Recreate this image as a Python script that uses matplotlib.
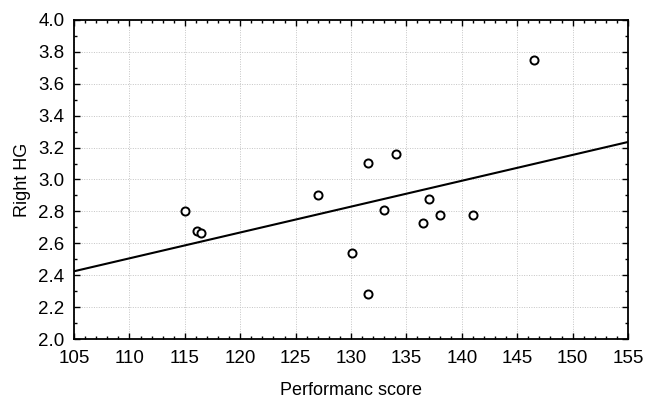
import numpy as np
import matplotlib
matplotlib.use("Agg")
import matplotlib.pyplot as plt
from matplotlib.ticker import MultipleLocator

# data
score = [115.0, 116.1, 116.5, 127.0, 130.1, 131.5, 131.5, 133.0, 134.1,
         136.5, 137.0, 138.0, 141.0, 146.5]
right_hg = [2.80, 2.68, 2.665, 2.90, 2.54, 2.285, 3.105, 2.81, 3.16,
            2.73, 2.875, 2.78, 2.78, 3.75]

# fitted line as drawn (value at x=105 and x=155)
fit_x = [105, 155]
fit_y = [2.425, 3.235]

plt.rcParams["font.family"] = ["Liberation Sans", "DejaVu Sans"]

fig = plt.figure(figsize=(6.46, 3.98), dpi=100)
ax = fig.add_axes([0.1146, 0.148, 0.8575, 0.802])

ax.plot(fit_x, fit_y, color="black", lw=1.5, zorder=3)
ax.scatter(score, right_hg, s=34, facecolors="white", edgecolors="black",
           linewidths=1.4, zorder=4)

ax.set_xlim(105, 155)
ax.set_ylim(2.0, 4.0)
ax.xaxis.set_major_locator(MultipleLocator(5))
ax.xaxis.set_minor_locator(MultipleLocator(1))
ax.yaxis.set_major_locator(MultipleLocator(0.2))
ax.yaxis.set_minor_locator(MultipleLocator(0.1))
ax.yaxis.set_major_formatter(plt.FormatStrFormatter("%.1f"))

ax.tick_params(which="both", direction="in", top=True, right=True,
               labelsize=13.5, color="black")
ax.tick_params(which="major", length=4, width=1)
ax.tick_params(which="minor", length=2.5, width=1)
ax.tick_params(axis="x", pad=8)
ax.tick_params(axis="y", pad=7)

ax.grid(True, which="major", ls=(0, (1, 1.5)), color="#c4c4c4", lw=0.7)
for sp in ax.spines.values():
    sp.set_linewidth(1.3)

ax.set_xlabel("Performanc score", fontsize=13, labelpad=11)
ax.set_ylabel("Right HG", fontsize=13, labelpad=5)

fig.savefig("out.png", dpi=100)
